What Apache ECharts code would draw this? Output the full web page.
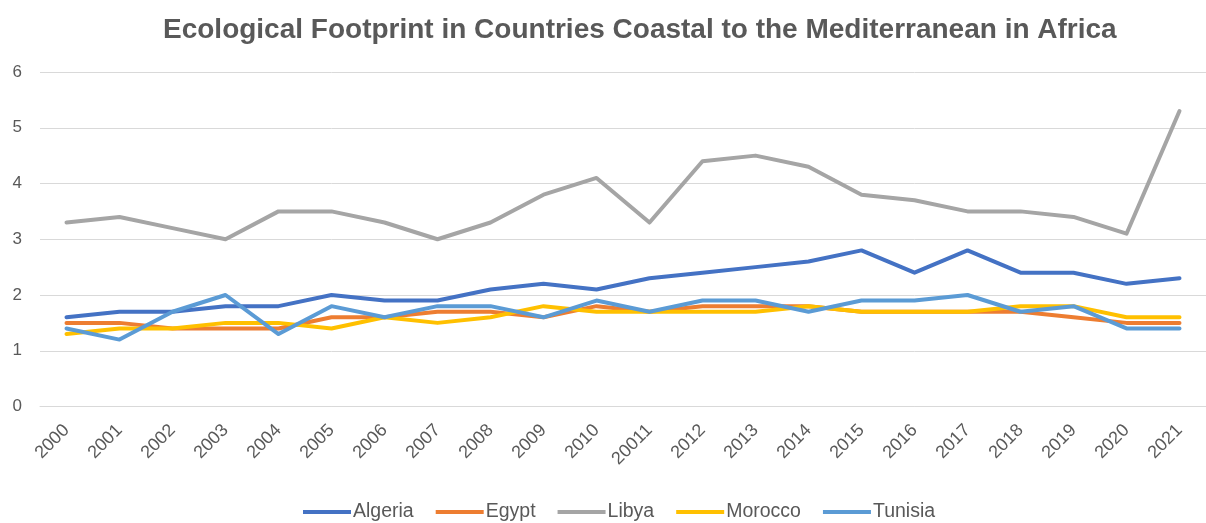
<!DOCTYPE html>
<html>
<head>
<meta charset="utf-8">
<script src="https://cdn.jsdelivr.net/npm/echarts@6/dist/echarts.min.js"></script>
<style>
  html, body { margin: 0; padding: 0; background: #fff; }
  #chart { width: 1206px; height: 523px; }
</style>
</head>
<body>
<div id="chart"></div>
<script>
// Years along the x axis (the 2011 label is printed as "20011")
const years = ['2000','2001','2002','2003','2004','2005','2006','2007','2008','2009','2010',
               '20011','2012','2013','2014','2015','2016','2017','2018','2019','2020','2021'];

// Ecological footprint per country (global hectares per person)
const algeria = [1.6,1.7,1.7,1.8,1.8,2.0,1.9,1.9,2.1,2.2,2.1,2.3,2.4,2.5,2.6,2.8,2.4,2.8,2.4,2.4,2.2,2.3];
const egypt   = [1.5,1.5,1.4,1.4,1.4,1.6,1.6,1.7,1.7,1.6,1.8,1.7,1.8,1.8,1.8,1.7,1.7,1.7,1.7,1.6,1.5,1.5];
const libya   = [3.3,3.4,3.2,3.0,3.5,3.5,3.3,3.0,3.3,3.8,4.1,3.3,4.4,4.5,4.3,3.8,3.7,3.5,3.5,3.4,3.1,5.3];
const morocco = [1.3,1.4,1.4,1.5,1.5,1.4,1.6,1.5,1.6,1.8,1.7,1.7,1.7,1.7,1.8,1.7,1.7,1.7,1.8,1.8,1.6,1.6];
const tunisia = [1.4,1.2,1.7,2.0,1.3,1.8,1.6,1.8,1.8,1.6,1.9,1.7,1.9,1.9,1.7,1.9,1.9,2.0,1.7,1.8,1.4,1.4];

const yTicks = { min: 0, max: 6, interval: 1 };

const seriesDefs = [
  { name: 'Algeria', data: algeria, color: '#4472C4' },
  { name: 'Egypt',   data: egypt,   color: '#ED7D31' },
  { name: 'Libya',   data: libya,   color: '#A5A5A5' },
  { name: 'Morocco', data: morocco, color: '#FFC000' },
  { name: 'Tunisia', data: tunisia, color: '#5B9BD5' }
];

const font = '"Liberation Sans", Arial, sans-serif';

const chart = echarts.init(document.getElementById('chart'), null, { renderer: 'canvas' });
chart.setOption({
  animation: false,
  backgroundColor: '#ffffff',
  title: {
    text: 'Ecological Footprint in Countries Coastal to the Mediterranean in Africa',
    left: 158,
    top: 11,
    textStyle: { fontFamily: font, fontWeight: 'bold', fontSize: 28, color: '#595959' }
  },
  legend: {
    top: 497,
    left: 298,
    itemWidth: 48,
    itemHeight: 4,
    itemGap: 22,
    icon: 'rect',
    textStyle: { fontFamily: font, fontSize: 19.5, color: '#595959', padding: [0, 0, 0, -3] },
    data: seriesDefs.map(s => s.name)
  },
  grid: { left: 40, top: 72, width: 1168, height: 334.5, containLabel: false },
  xAxis: {
    type: 'category',
    data: years,
    boundaryGap: true,
    axisLine: { show: true, lineStyle: { color: '#d9d9d9', width: 1 } },
    axisTick: { show: false },
    axisLabel: { rotate: 45, fontFamily: font, fontSize: 18, color: '#595959', margin: 21, interval: 0 }
  },
  yAxis: {
    type: 'value',
    min: yTicks.min,
    max: yTicks.max,
    interval: yTicks.interval,
    axisLine: { show: false },
    axisTick: { show: false },
    axisLabel: { fontFamily: font, fontSize: 17, color: '#595959', margin: 18 },
    splitLine: { lineStyle: { color: '#d9d9d9', width: 1 } }
  },
  series: seriesDefs.map(s => ({
    name: s.name,
    type: 'line',
    data: s.data,
    symbol: 'none',
    color: s.color,
    lineStyle: { color: s.color, width: 4, join: 'round', cap: 'round' }
  }))
});
</script>
</body>
</html>
